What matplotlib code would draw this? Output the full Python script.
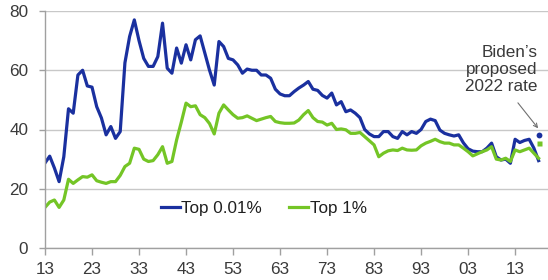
import matplotlib
matplotlib.use("Agg")
import matplotlib.pyplot as plt
import numpy as np

years = list(range(1913, 2019))

top_001 = [
    28.7, 31, 27, 22.4, 30.8, 47, 45.5, 58.4, 60, 54.7,
    54.3, 47.7, 43.9, 38.2, 41, 37, 39.3, 62.5, 71.4, 77,
    70, 64, 61.3, 61.3, 64.6, 75.9, 60.7, 59, 67.5, 62.4,
    68.6, 63.5, 70.3, 71.6, 65.8, 60, 55, 69.7, 68, 64,
    63.5, 61.8, 59, 60.4, 60, 60, 58.4, 58.4, 57.3, 53.6,
    52, 51.4, 51.4,
    52.8, 54, 55, 56.2, 53.6, 53.2, 51.5, 50.6, 52.3, 48.3,
    49.4, 46, 46.6, 45.5, 44, 40, 38.5, 37.6, 37.6, 39.3,
    39.3, 37.6, 37, 39.3, 38.2, 39.3, 38.7, 40, 42.7, 43.5,
    43, 39.8, 38.7, 38.2, 37.8, 38.2, 35.5, 33.5, 32.7, 32.5,
    32.5, 33.7, 35.4, 30.8, 29.7, 30, 28.6, 36.7, 35.6, 36.3,
    36.7, 33.7, 29.5,
]

top_1 = [
    13.7, 15.5, 16.2, 13.7, 16.2, 23.2, 21.8, 23, 24.1, 23.9,
    24.7, 22.7, 22.2, 21.8, 22.4, 22.4, 24.5, 27.5, 28.6, 33.7,
    33.3, 30, 29.2, 29.5, 31.5, 34.2, 28.6, 29.2, 36.5, 42.5,
    48.9, 47.7, 48, 45, 44, 42, 38.5, 45.5, 48.3, 46.6,
    45, 43.8, 44, 44.6, 43.8, 43, 43.5, 44, 44.4, 42.7,
    42.3, 42.1, 42.1,
    42.2, 43.2, 45, 46.4, 44, 42.7, 42.5, 41.5, 42.1, 40,
    40.2, 39.9, 38.7, 38.7, 39, 37.6, 36.2, 34.8, 30.8, 32,
    32.8, 33.1, 32.9, 33.7, 33.1, 33, 33.1, 34.5, 35.4, 36,
    36.7, 35.9, 35.4, 35.4, 34.8, 34.8, 33.7, 32.5, 31.1, 31.8,
    32.5, 33.1, 34.2, 30, 29.7, 30.3, 29.2, 33.1, 32.5, 33.1,
    33.7, 32, 30.3,
]

biden_year = 2018
biden_001 = 38.2
biden_1 = 35.6

xtick_years = list(range(1913, 2014, 10))
xtick_labels = ["13", "23", "33", "43", "53", "63", "73", "83", "93", "03", "13"]
yticks = [0, 20, 40, 60, 80]

series_names = ["Top 0.01%", "Top 1%"]

BLUE = "#1a309f"
GREEN = "#74c526"
TXT = "#3a3a3a"
GRID = "#c8c8c8"

plt.rcParams["font.family"] = ["Liberation Sans", "DejaVu Sans"]
plt.rcParams["font.size"] = 12.3

fig = plt.figure(figsize=(5.48, 2.80), dpi=100)
ax = fig.add_axes([45 / 548, 1 - 248 / 280, 503 / 548, 237 / 280])

ax.plot(years, top_001, color=BLUE, lw=2.3, label=series_names[0], solid_joinstyle="round")
ax.plot(years, top_1, color=GREEN, lw=2.3, label=series_names[1], solid_joinstyle="round")
ax.plot([biden_year], [biden_001], "o", color=BLUE, ms=4.2, mec="none")
ax.plot([biden_year], [biden_1], "s", color=GREEN, ms=3.6, mec="none")

ax.set_xlim(1913, 2020)
ax.set_ylim(0, 80)
ax.set_xticks(xtick_years)
ax.set_xticklabels(xtick_labels)
ax.set_yticks(yticks)

ax.grid(axis="y", color=GRID, lw=1)
ax.set_axisbelow(True)
for s in ["top", "right"]:
    ax.spines[s].set_visible(False)
for s in ["left", "bottom"]:
    ax.spines[s].set_color("#a0a0a0")
    ax.spines[s].set_linewidth(1)
ax.tick_params(axis="both", colors="#a0a0a0", labelcolor=TXT, length=4, width=1)
ax.tick_params(axis="x", pad=5, length=5)
ax.tick_params(axis="y", pad=8)

ax.text(2017.8, 68.5, "Biden\u2019s\nproposed\n2022 rate", ha="right", va="top",
        color=TXT, linespacing=1.15)
ax.annotate("", xy=(2017.9, 40.4), xytext=(2013.6, 49),
            arrowprops=dict(arrowstyle="->", color="#707070", lw=0.8,
                            shrinkA=0, shrinkB=0, mutation_scale=7))

leg = ax.legend(ncol=2, frameon=False, loc="center", bbox_to_anchor=(0.435, 0.165),
                handlelength=1.1, handletextpad=0.1, columnspacing=1.6)
for t in leg.get_texts():
    t.set_color("#202020")

fig.savefig("out.png", dpi=100)
